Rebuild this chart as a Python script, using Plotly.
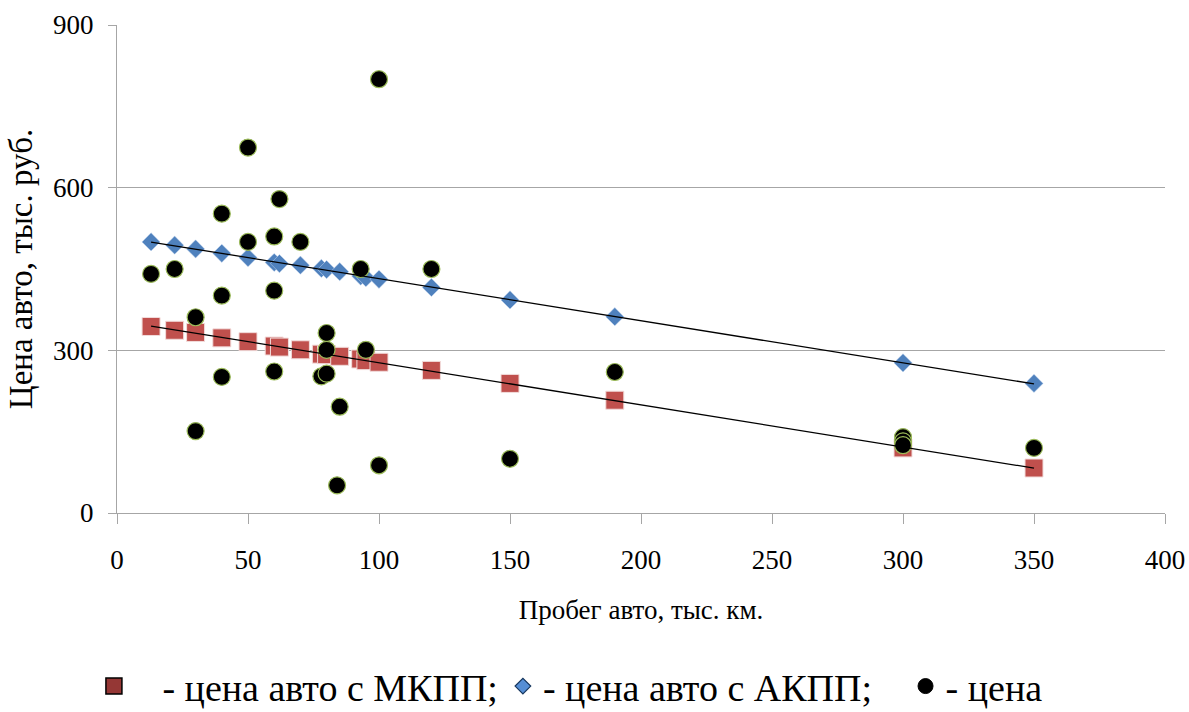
import numpy as np
import plotly.graph_objects as go

# Пробег (тыс. км) для расчётных цен с МКПП и АКПП
mileage = [13, 22, 30, 40, 50, 60, 62, 70, 78, 80, 85, 93, 95, 100, 120, 150, 190, 300, 350]
price_mkpp = [344, 337, 333, 323, 316, 308, 306, 301, 293, 292, 289, 284, 281, 278, 263, 239, 208, 120, 83]
price_akpp = [500, 494, 487, 479, 471, 462, 460, 457, 451, 449, 445, 437, 434, 431, 416, 393, 362, 277, 239]

# Фактические цены объявлений
offer_mileage = [13, 22, 30, 30, 40, 40, 40, 50, 50, 60, 60, 60, 62, 70, 78, 80, 80, 80,
                 84, 85, 93, 95, 100, 100, 120, 150, 190, 300, 300, 300, 350]
offer_price = [441, 450, 361, 151, 552, 401, 251, 674, 500, 510, 410, 261, 579, 500, 252, 332, 301, 257,
               51, 196, 450, 301, 800, 88, 450, 100, 260, 140, 132, 125, 120]

x_ticks = [0, 50, 100, 150, 200, 250, 300, 350, 400]
y_ticks = [0, 300, 600, 900]

FONT = "Liberation Serif, Times New Roman, serif"
GRID = "#A6A6A6"

fig = go.Figure()

fig.add_trace(go.Scatter(
    x=mileage, y=price_mkpp, mode="markers", showlegend=False,
    marker=dict(symbol="square", size=18, color="#C0504D",
                line=dict(color="#F2DCDB", width=1)),
))
fig.add_trace(go.Scatter(
    x=mileage, y=price_akpp, mode="markers", showlegend=False,
    marker=dict(symbol="diamond", size=14, color="#4F81BD",
                line=dict(color="#C6D9F1", width=0.5)),
))
fig.add_trace(go.Scatter(
    x=offer_mileage, y=offer_price, mode="markers", showlegend=False,
    marker=dict(symbol="circle", size=17, color="black",
                line=dict(color="#9BBB59", width=1.2)),
))

# Линейные тренды по расчётным ценам
for ys in (price_mkpp, price_akpp):
    k, b = np.polyfit(mileage, ys, 1)
    xs = np.array([min(mileage), max(mileage)], dtype=float)
    fig.add_trace(go.Scatter(
        x=xs, y=k * xs + b, mode="lines", showlegend=False,
        line=dict(color="black", width=1.3),
    ))

# Элементы легенды
nb = "\u00a0"
fig.add_trace(go.Scatter(
    x=[None], y=[None], mode="markers", name=nb * 3 + "- цена авто с МКПП;",
    marker=dict(symbol="square", size=16, color="#953735", line=dict(color="black", width=1.5)),
))
fig.add_trace(go.Scatter(
    x=[None], y=[None], mode="markers", name="- цена авто с АКПП;" + nb * 3,
    marker=dict(symbol="diamond", size=12, color="#558ED5", line=dict(color="#17375E", width=1.2)),
))
fig.add_trace(go.Scatter(
    x=[None], y=[None], mode="markers", name="- цена",
    marker=dict(symbol="circle", size=15, color="black", line=dict(color="black", width=1)),
))

fig.update_layout(
    width=1189, height=712,
    margin=dict(l=117, r=24, t=25, b=199, autoexpand=False),
    paper_bgcolor="white", plot_bgcolor="white",
    font=dict(family=FONT, color="black"),
    legend=dict(
        orientation="h", xref="container", yref="container",
        x=0.079, xanchor="left", y=0.036, yanchor="middle",
        font=dict(family=FONT, size=38, color="black"),
        bgcolor="rgba(0,0,0,0)", itemwidth=30, itemclick=False,
    ),
)

fig.update_xaxes(
    range=[0, 400], tickvals=x_ticks, ticktext=[str(v) for v in x_ticks],
    automargin=False,
    showgrid=False, zeroline=False,
    showline=True, linecolor=GRID, linewidth=1.3,
    ticks="outside", ticklen=10, tickcolor=GRID, tickwidth=1.3,
    tickfont=dict(family=FONT, size=27, color="black"),
    ticklabelstandoff=12,
    title=dict(text="Пробег авто, тыс. км.", font=dict(family=FONT, size=27, color="black"), standoff=26),
)
fig.update_yaxes(
    range=[0, 900], tickvals=y_ticks, ticktext=[str(v) for v in y_ticks],
    automargin=False,
    showgrid=True, gridcolor=GRID, gridwidth=1.3, zeroline=False,
    showline=True, linecolor=GRID, linewidth=1.3,
    ticks="outside", ticklen=8, tickcolor=GRID, tickwidth=1.3,
    tickfont=dict(family=FONT, size=27, color="black"),
    ticklabelstandoff=9,
    title=dict(text="Цена авто, тыс. руб.", font=dict(family=FONT, size=33, color="black"), standoff=10),
)

fig.write_html("out.html")
